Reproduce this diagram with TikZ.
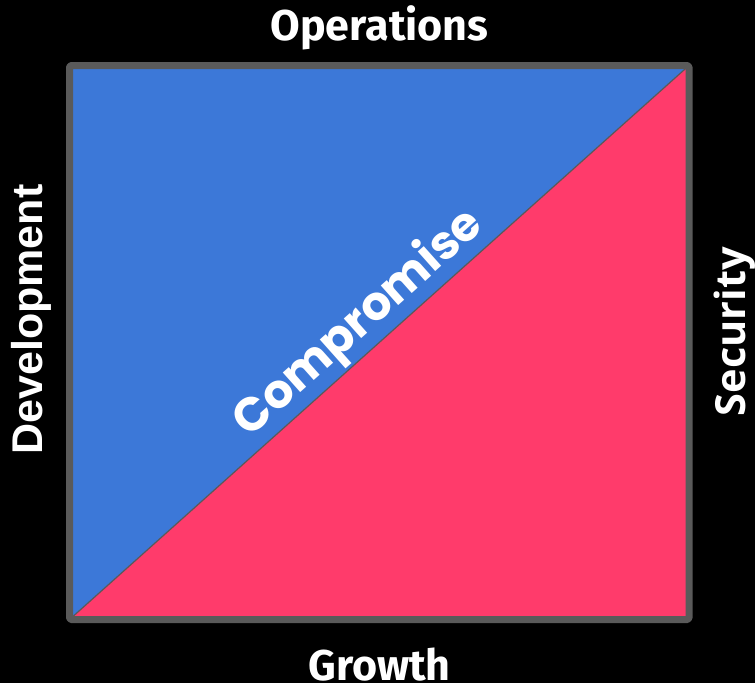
\documentclass[tikz,border=0pt]{standalone}
\usepackage{fontspec}
\usetikzlibrary{calc}
\newfontfamily\headfont{Fira Sans}[UprightFont=* Bold]
\newfontfamily\devfont{Liberation Sans}[UprightFont=* Bold]
\newfontfamily\secfont{Open Sans}[UprightFont=* Bold]
\newfontfamily\compfont{Poppins}[UprightFont=* Bold]
\definecolor{frame}{HTML}{5A5A5A}
\definecolor{devblue}{HTML}{3C78D8}
\definecolor{secpink}{HTML}{FF3B6B}
\tikzset{
  txt/.style={text=white, inner sep=0pt},
  edge/.style={draw=frame, line width=7pt, rounded corners=1.5pt, line join=round}
}
\begin{document}
\begin{tikzpicture}[x=1pt, y=-1pt]
  \fill[black] (0,0) rectangle (755,683);
  \useasboundingbox (0,0) rectangle (755,683);
  % corners of the square
  \coordinate (tl) at (69.5,65.5);
  \coordinate (tr) at (689,65.5);
  \coordinate (br) at (689,619.5);
  \coordinate (bl) at (69.5,619.5);
  % two halves
  \fill[devblue] (bl) -- (tl) -- (tr) -- cycle;
  \fill[secpink] (bl) -- (br) -- (tr) -- cycle;
  \draw[frame, line width=1.2pt] (bl) -- (tr);
  \draw[edge] (tl) rectangle (br);
  % axis labels
  \node[txt, font=\headfont\fontsize{43}{43}\selectfont, anchor=base] (ops) at (379.5,40) {Operations};
  \node[txt, font=\headfont\fontsize{43}{43}\selectfont, anchor=base] (grw) at (379.5,680) {Growth};
  \node[txt, font=\devfont\fontsize{43}{43}\selectfont, rotate=90] (dev) at (31,319.5) {Development};
  \node[txt, font=\secfont\fontsize{41.5}{41.5}\selectfont, rotate=90] (sec) at (735,331.5) {Security};
  \node[txt, font=\compfont\fontsize{47}{47}\selectfont, rotate=41.7, anchor=base] (comp) at ($(bl)!0.497!(tr)+(-10,-11)$) {Compromise};
\end{tikzpicture}
\end{document}
